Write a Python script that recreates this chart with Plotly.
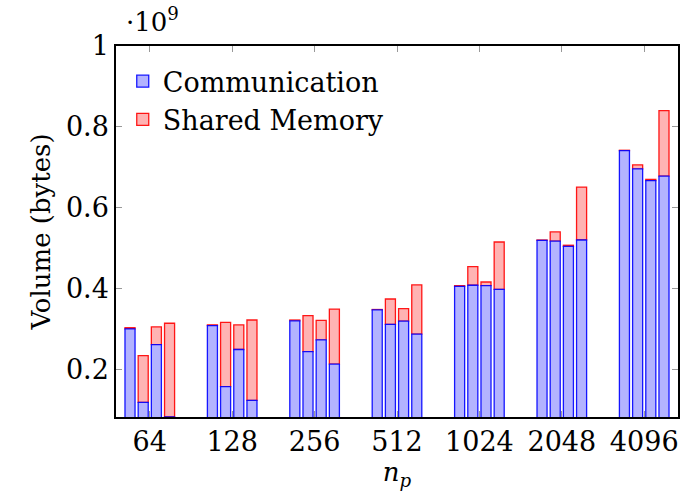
import plotly.graph_objects as go

groups = ["64", "128", "256", "512", "1024", "2048", "4096"]
# values in units of 1e9 bytes, 4 variants per group
communication = [
    [0.300, 0.118, 0.261, 0.082],
    [0.308, 0.157, 0.249, 0.123],
    [0.320, 0.244, 0.273, 0.213],
    [0.347, 0.311, 0.319, 0.287],
    [0.405, 0.408, 0.407, 0.398],
    [0.519, 0.517, 0.504, 0.520],
    [0.741, 0.696, 0.667, 0.678],
]
shared_memory = [
    [0.003, 0.116, 0.044, 0.232],
    [0.002, 0.159, 0.061, 0.199],
    [0.002, 0.089, 0.048, 0.136],
    [0.001, 0.063, 0.031, 0.122],
    [0.002, 0.046, 0.009, 0.117],
    [0.001, 0.023, 0.003, 0.131],
    [0.001, 0.010, 0.003, 0.162],
]
y_ticks = [0.2, 0.4, 0.6, 0.8, 1.0]
y_tick_text = ["0.2", "0.4", "0.6", "0.8", "1"]

pitch = 0.16
width = 0.122
xs, comm_vals, shm_vals = [], [], []
for i, g in enumerate(groups):
    for j in range(4):
        xs.append(i + (j - 1.5) * pitch)
        comm_vals.append(communication[i][j])
        shm_vals.append(shared_memory[i][j])

FONT = "DejaVu Serif"
FS = 26
fig = go.Figure()
# shared memory stacked on top of communication (drawn first so blue edges sit on top)
fig.add_trace(go.Bar(
    x=xs, y=shm_vals, base=comm_vals, width=width, name="Shared Memory", legendrank=2,
    marker=dict(color="rgb(255,179,179)", line=dict(color="rgba(255,0,0,0.9)", width=1.3)),
))
fig.add_trace(go.Bar(
    x=xs, y=comm_vals, width=width, name="Communication", legendrank=1,
    marker=dict(color="rgb(179,179,255)", line=dict(color="rgba(0,0,255,0.9)", width=1.3)),
))

fig.update_layout(
    width=682, height=491,
    barmode="overlay",
    plot_bgcolor="white", paper_bgcolor="white",
    margin=dict(l=116, r=2, t=46, b=74),
    font=dict(family=FONT, size=FS, color="black"),
    showlegend=True,
    legend=dict(
        x=0.012, y=0.97, xanchor="left", yanchor="top",
        bgcolor="rgba(0,0,0,0)", borderwidth=0, traceorder="normal",
        font=dict(family=FONT, size=27), tracegroupgap=0,
        itemwidth=30,
    ),
    xaxis=dict(
        range=[-0.41, 6.41],
        tickvals=list(range(len(groups))), ticktext=groups,
        ticks="inside", ticklen=6, tickcolor="#999999", tickwidth=1,
        showline=True, linecolor="black", linewidth=1.5, mirror="ticks",
        showgrid=False, zeroline=False, tickfont=dict(size=27),
        title=dict(text="<i>n</i><sub><i>p</i></sub>", standoff=5, font=dict(family=FONT, size=FS)),
    ),
    yaxis=dict(
        range=[0.082, 1.0],
        tickvals=y_ticks, ticktext=y_tick_text,
        ticks="inside", ticklen=6, tickcolor="#999999", tickwidth=1,
        showline=True, linecolor="black", linewidth=1.5, mirror="ticks",
        showgrid=False, zeroline=False, tickfont=dict(size=27),
        title=dict(text="Volume (bytes)", standoff=8, font=dict(family=FONT, size=FS)),
    ),
    annotations=[dict(
        text="·10<sup>9</sup>", xref="paper", yref="paper",
        x=0.014, y=1.02, xanchor="left", yanchor="bottom",
        showarrow=False, font=dict(family=FONT, size=FS),
    )],
)

fig.write_html("out.html")
